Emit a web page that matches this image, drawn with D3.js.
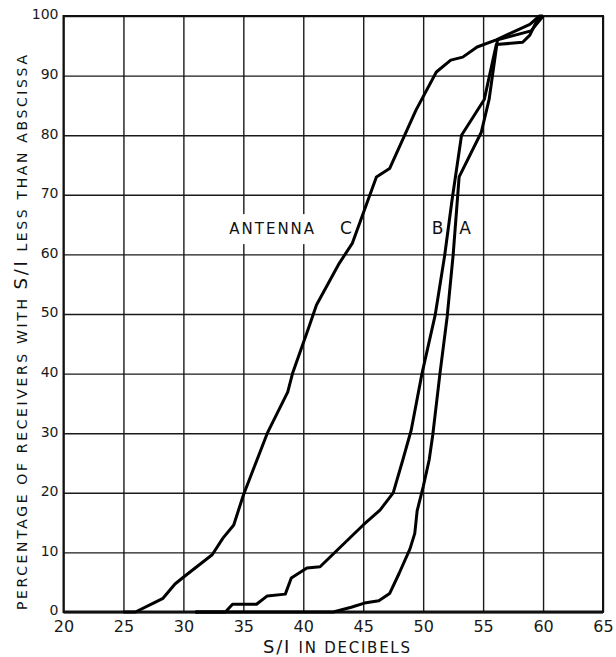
<!DOCTYPE html>
<html>
<head>
<meta charset="utf-8">
<script src="https://cdnjs.cloudflare.com/ajax/libs/d3/7.8.5/d3.min.js"></script>
<style>
  body { margin: 0; background: #fff; }
  svg { display: block; }
  .grid line { stroke: #1a1a1a; stroke-width: 1.4px; }
  .grid text { font-family: "DejaVu Sans", sans-serif; fill: #1a1a1a; }
</style>
</head>
<body>
<div id="chart"></div>
<script>
// S/I (dB) vs percentage of receivers, one array per antenna
var antennaA = [[31,0],[42.5,0],[44,0.8],[45.1,1.5],[46.3,1.9],[47.2,3.1],[48,6.5],[48.9,10.6],
    [49.3,13.2],[49.5,17],[50,21],[50.5,25.5],[50.8,29.7],[51.4,40],[52,49.5],[52.5,59.9],
    [53,73],[54.85,80.5],[55.5,86],[56.2,96],[59,97.5],[59.6,99],[60,100]];
var antennaB = [[31,0],[33.5,0],[34.1,1.3],[36.1,1.3],[37,2.7],[38.5,3],[39,5.7],[40.3,7.4],
    [41.4,7.6],[45,14.6],[46.4,17.1],[47.5,20],[48.3,25.5],[49,30.5],[49.9,40],[51,49.8],
    [51.8,59.9],[52.4,69],[53.2,80],[55.1,86],[56.1,95.2],[58.3,95.6],[58.9,96.8],[59.5,99.3],[60,100]];
var antennaC = [[25,0],[26,0],[27.5,1.5],[28.3,2.3],[29.3,4.7],[30.1,6],[32.4,9.6],[33.3,12.4],
    [34.2,14.6],[35,19.6],[37,30],[38.7,36.9],[39.1,40],[40.5,48],[41.1,51.5],[43,58.5],
    [44.1,61.9],[45,66.9],[46.1,73],[47.2,74.4],[49.4,84.2],[51.1,90.6],[52.3,92.6],[53.3,93.1],
    [54.5,94.8],[56.1,96],[58.9,98.6],[59.7,100],[60,100]];

var xTicks = [20, 25, 30, 35, 40, 45, 50, 55, 60, 65];
var yTicks = [0, 10, 20, 30, 40, 50, 60, 70, 80, 90, 100];

var curveLabels = [
    {text: "ANTENNA", x: 37.45, y: 63.4, box: true},
    {text: "C", x: 43.55, y: 63.4},
    {text: "B", x: 51.2, y: 63.4},
    {text: "A", x: 53.5, y: 63.4}
];

var width = 616, height = 657;
var margin = {top: 16, right: 13, bottom: 45, left: 63.5};
var w = width - margin.left - margin.right,
    h = height - margin.top - margin.bottom;

var svg = d3.select("#chart").append("svg")
    .attr("width", width)
    .attr("height", height);

var g = svg.append("g")
    .attr("transform", "translate(" + margin.left + "," + margin.top + ")");

var x = d3.scaleLinear().domain([20, 65]).range([0, w]);
var y = d3.scaleLinear().domain([0, 100]).range([h, 0]);

// grid lines double as the axes
var xAxis = g.append("g")
    .attr("class", "grid")
    .attr("transform", "translate(0," + h + ")")
    .call(d3.axisBottom(x).tickValues(xTicks).tickSize(-h).tickPadding(9));
xAxis.select(".domain").remove();
xAxis.selectAll("text").style("font-size", "16px");

var yAxis = g.append("g")
    .attr("class", "grid")
    .call(d3.axisLeft(y).tickValues(yTicks).tickSize(-w).tickPadding(5));
yAxis.select(".domain").remove();
yAxis.selectAll("text").style("font-size", "14px").attr("dy", "0.2em");

// frame
g.append("rect")
    .attr("width", w).attr("height", h)
    .style("fill", "none").style("stroke", "#111").style("stroke-width", 2);
g.append("line")
    .attr("x1", 0).attr("x2", w).attr("y1", h).attr("y2", h)
    .style("stroke", "#111").style("stroke-width", 3);

// label with white box breaking the grid
curveLabels.forEach(function(d) {
    if (d.box) {
        g.append("rect")
            .attr("x", x(d.x) - 50).attr("y", y(d.y) - 20)
            .attr("width", 100).attr("height", 30)
            .style("fill", "#fff");
    }
});

var line = d3.line()
    .x(function(d) { return x(d[0]); })
    .y(function(d) { return y(d[1]); });

[antennaA, antennaB, antennaC].forEach(function(series) {
    g.append("path")
        .datum(series)
        .attr("d", line)
        .style("fill", "none")
        .style("stroke", "#000")
        .style("stroke-width", 3)
        .style("stroke-linejoin", "round");
});

curveLabels.forEach(function(d) {
    g.append("text")
        .attr("x", x(d.x))
        .attr("y", y(d.y))
        .attr("text-anchor", "middle")
        .style("font-family", "DejaVu Sans, sans-serif")
        .style("font-size", d.box ? "15px" : "17px")
        .style("letter-spacing", d.box ? "2px" : "0px")
        .style("fill", "#111")
        .text(d.text);
});

// axis titles
var xt = svg.append("text")
    .attr("x", 263).attr("y", 653)
    .attr("textLength", 147).attr("lengthAdjust", "spacing")
    .style("font-family", "DejaVu Sans, sans-serif")
    .style("fill", "#111");
xt.append("tspan").style("font-size", "18px").text("S/I ");
xt.append("tspan").style("font-size", "15px").text("IN DECIBELS");

var yt = svg.append("text")
    .attr("transform", "translate(27,610) rotate(-90)")
    .attr("textLength", 555).attr("lengthAdjust", "spacing")
    .style("font-family", "DejaVu Sans, sans-serif")
    .style("fill", "#111");
yt.append("tspan").style("font-size", "14px").text("PERCENTAGE OF RECEIVERS WITH ");
yt.append("tspan").style("font-size", "18px").text("S/I");
yt.append("tspan").style("font-size", "14px").text(" LESS THAN ABSCISSA");
</script>
</body>
</html>
